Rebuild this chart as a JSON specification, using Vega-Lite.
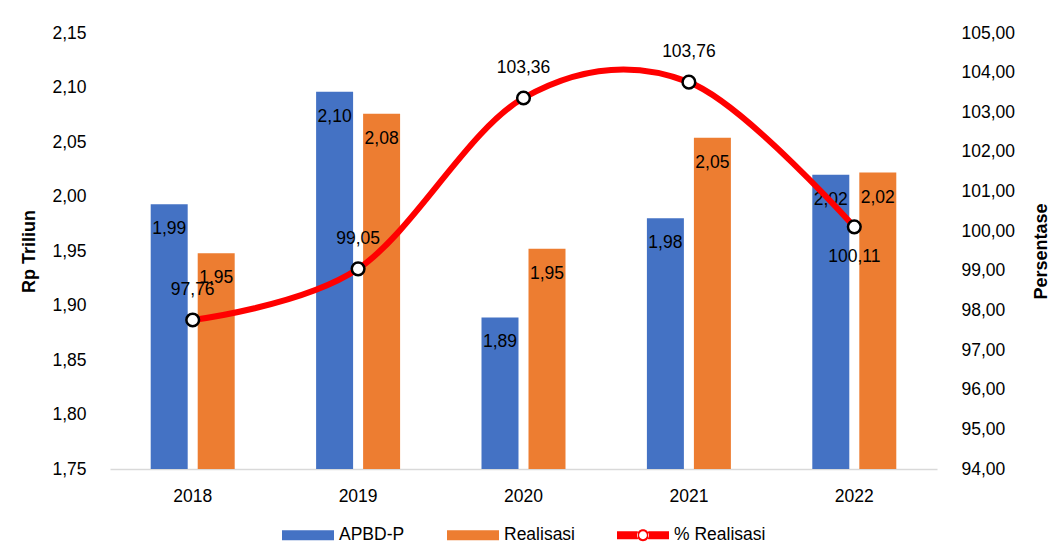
{
  "$schema": "https://vega.github.io/schema/vega-lite/v6.json",
  "width": 827,
  "height": 436,
  "padding": {"left": 20, "top": 24, "right": 10, "bottom": 5},
  "background": "white",
  "datasets": {
    "bars": [
      {"year": "2018", "series": "APBD-P", "value": 1.993},
      {"year": "2018", "series": "Realisasi", "value": 1.948},
      {"year": "2019", "series": "APBD-P", "value": 2.096},
      {"year": "2019", "series": "Realisasi", "value": 2.076},
      {"year": "2020", "series": "APBD-P", "value": 1.889},
      {"year": "2020", "series": "Realisasi", "value": 1.952},
      {"year": "2021", "series": "APBD-P", "value": 1.98},
      {"year": "2021", "series": "Realisasi", "value": 2.054},
      {"year": "2022", "series": "APBD-P", "value": 2.02},
      {"year": "2022", "series": "Realisasi", "value": 2.022}
    ],
    "pct": [
      {"year": "2018", "pct": 97.76},
      {"year": "2019", "pct": 99.05},
      {"year": "2020", "pct": 103.36},
      {"year": "2021", "pct": 103.76},
      {"year": "2022", "pct": 100.11}
    ]
  },
  "layer": [
    {
      "data": {"name": "bars"},
      "encoding": {
        "x": {"field": "year", "type": "ordinal", "scale": {"paddingInner": 0, "paddingOuter": 0},
          "axis": {"title": null, "labelAngle": 0, "ticks": false, "domainColor": "#D9D9D9", "domainWidth": 1.5, "labelPadding": 18}},
        "xOffset": {"field": "series", "type": "nominal", "scale": {"domain": ["APBD-P", "Realisasi"], "paddingInner": 0.213, "paddingOuter": 0.866}},
        "y": {"field": "value", "type": "quantitative", "scale": {"domain": [1.75, 2.15], "zero": false, "nice": false},
          "axis": {"title": "Rp Triliun", "values": [1.75, 1.8, 1.85, 1.9, 1.95, 2.0, 2.05, 2.1, 2.15], "format": ".2f", "grid": false, "ticks": false, "domain": false, "labelPadding": 24, "titlePadding": 13, "labelOverlap": false}}
      },
      "layer": [
        {
          "mark": {"type": "bar", "clip": true},
          "encoding": {
            "color": {"field": "series", "type": "nominal",
              "scale": {"domain": ["APBD-P", "Realisasi", "% Realisasi"], "range": ["#4472C4", "#ED7D31", "#FF0000"]},
              "legend": {
                "title": null, "orient": "bottom", "direction": "horizontal", "offset": 4,
                "symbolSize": 2704, "symbolStrokeWidth": 0, "labelOffset": 5, "columnPadding": 42,
                "encode": {
                  "symbols": {
                    "update": {
                      "shape": {"signal": "datum.value === '% Realisasi' ? 'M-1,-0.15H-0.2V0.15H-1Z M0.2,-0.15H1V0.15H0.2Z M0.23,0 A0.23,0.23 0 1,0 -0.23,0 A0.23,0.23 0 1,0 0.23,0 Z M0.15,0 A0.15,0.15 0 1,1 -0.15,0 A0.15,0.15 0 1,1 0.15,0 Z' : 'M-1,-0.19H1V0.19H-1Z'"},
                      "fill": [
                        {"test": "datum.value === '% Realisasi'", "value": {"gradient": "linear", "x1": 0, "y1": 0, "x2": 1, "y2": 0, "stops": [
                          {"offset": 0, "color": "#FF0000"}, {"offset": 0.385, "color": "#FF0000"}, {"offset": 0.385, "color": "#000000"},
                          {"offset": 0.615, "color": "#000000"}, {"offset": 0.615, "color": "#FF0000"}, {"offset": 1, "color": "#FF0000"}]}},
                        {"scale": "color", "field": "value"}
                      ],
                      "opacity": {"value": 1}
                    }
                  }
                }
              }
            }
          }
        },
        {
          "mark": {"type": "text", "dy": 25, "fontSize": 17.5, "color": "#000000"},
          "encoding": {
            "text": {"field": "value", "type": "quantitative", "format": ".2f"}
          }
        }
      ]
    },
    {
      "data": {"name": "pct"},
      "encoding": {
        "x": {"field": "year", "type": "ordinal"},
        "y": {"field": "pct", "type": "quantitative", "scale": {"domain": [94, 105], "zero": false, "nice": false},
          "axis": {"orient": "right", "title": "Persentase", "values": [94, 95, 96, 97, 98, 99, 100, 101, 102, 103, 104, 105], "format": ".2f", "grid": false, "ticks": false, "domain": false, "labelPadding": 24, "titlePadding": 18, "titleAngle": 270, "titleBaseline": "top", "labelOverlap": false}}
      },
      "layer": [
        {
          "mark": {"type": "line", "interpolate": "cardinal", "color": "#FF0000", "strokeWidth": 6}
        },
        {
          "mark": {"type": "point", "filled": true, "fill": "#FFFFFF", "stroke": "#000000", "strokeWidth": 2.5, "size": 160, "opacity": 1}
        },
        {
          "transform": [{"filter": "datum.year !== '2022'"}],
          "mark": {"type": "text", "dy": -30, "fontSize": 17.5, "color": "#000000"},
          "encoding": {
            "text": {"field": "pct", "type": "quantitative", "format": ".2f"}
          }
        },
        {
          "transform": [{"filter": "datum.year === '2022'"}],
          "mark": {"type": "text", "dy": 30, "fontSize": 17.5, "color": "#000000"},
          "encoding": {
            "text": {"field": "pct", "type": "quantitative", "format": ".2f"}
          }
        }
      ]
    }
  ],
  "resolve": {"scale": {"y": "independent"}},
  "config": {
    "locale": {"number": {"decimal": ",", "thousands": ".", "grouping": [3], "currency": ["Rp", ""]}},
    "font": "Liberation Sans",
    "view": {"stroke": null},
    "axis": {"labelFontSize": 17.5, "labelColor": "#000000", "titleFontSize": 18, "titleFontWeight": "bold", "titleColor": "#000000"},
    "axisY": {"labelOverlap": false},
    "legend": {"labelFontSize": 17.5, "labelColor": "#000000", "layout": {"bottom": {"anchor": "middle"}}},
    "text": {"font": "Liberation Sans"}
  }
}
